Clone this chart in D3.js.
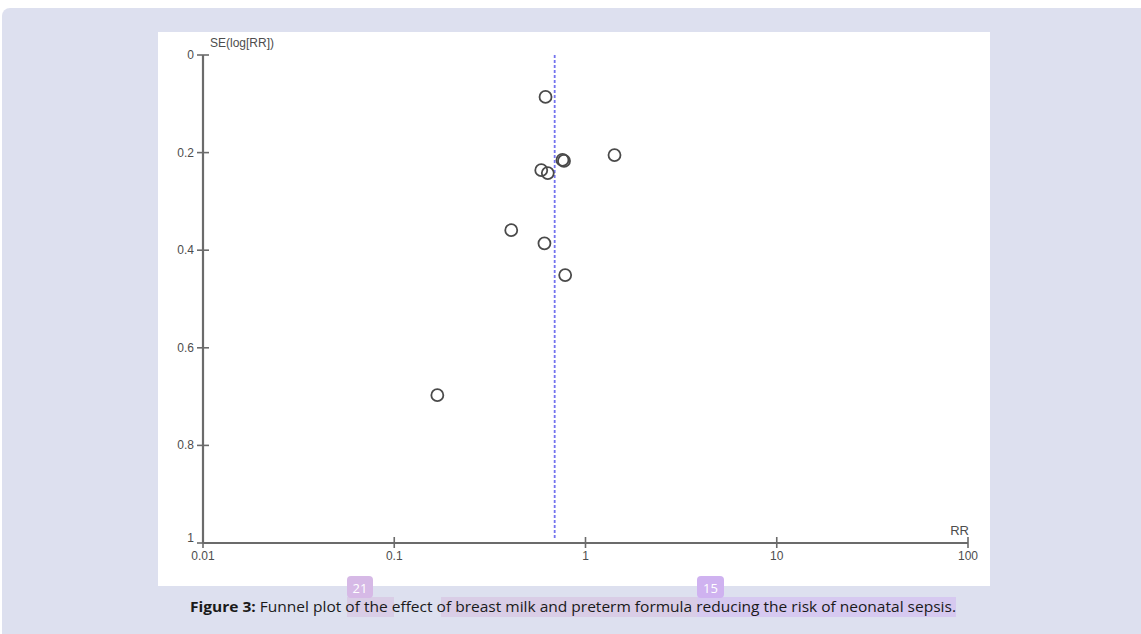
<!DOCTYPE html>
<html>
<head>
<meta charset="utf-8">
<script src="https://cdn.jsdelivr.net/npm/d3@7"></script>
<style>
  body { margin: 0; background: #fff; }
  svg { display: block; }
</style>
</head>
<body>
<svg id="chart" width="1141" height="634"></svg>
<script>

// Study estimates: relative risk and standard error of log(RR)
const rr = [0.618, 1.418, 0.758, 0.772, 0.587, 0.635, 0.409, 0.610, 0.783, 0.168];
const se = [0.086, 0.205, 0.215, 0.217, 0.236, 0.242, 0.359, 0.386, 0.451, 0.697];

// Pooled estimate (dashed line)
const pooledRR = 0.69;

// Tick labels
const xTicks = [0.01, 0.1, 1, 10, 100];
const xTickLabels = ["0.01", "0.1", "1", "10", "100"];
const yTicks = [0, 0.2, 0.4, 0.6, 0.8, 1];
const yTickLabels = ["0", "0.2", "0.4", "0.6", "0.8", "1"];

const svg = d3.select("#chart");

// Page frame
svg.append("rect")
    .attr("x", 2).attr("y", 8)
    .attr("width", 1150).attr("height", 640)
    .attr("rx", 8)
    .attr("fill", "#dde0ef");
svg.append("rect")
    .attr("x", 158).attr("y", 32)
    .attr("width", 832).attr("height", 554)
    .attr("fill", "#fff");

// Scales
const x = d3.scaleLog().domain([0.01, 100]).range([203, 968]);
const y = d3.scaleLinear().domain([0, 1]).range([55, 543]);

const axisColour = "#6b6b6b";
const textColour = "#4d4d4d";
const tickFont = "12px 'Liberation Sans', Arial, sans-serif";

// Y axis
const yAxis = svg.append("g");
yAxis.append("line")
    .attr("x1", x(0.01)).attr("x2", x(0.01))
    .attr("y1", y(0)).attr("y2", y(1))
    .attr("stroke", axisColour).attr("stroke-width", 2.2);
yAxis.selectAll(".ytick")
    .data(yTicks)
    .enter()
    .append("line")
    .attr("x1", x(0.01) - 6).attr("x2", x(0.01) + 6)
    .attr("y1", (d) => y(d)).attr("y2", (d) => y(d))
    .attr("stroke", axisColour).attr("stroke-width", 1.6);
yAxis.selectAll(".ylabel")
    .data(yTicks)
    .enter()
    .append("text")
    .attr("x", x(0.01) - 9)
    .attr("y", (d) => y(d) + (d === 1 ? -1 : 4))
    .attr("text-anchor", "end")
    .style("font", tickFont)
    .attr("fill", textColour)
    .text((d, i) => yTickLabels[i]);
yAxis.append("text")
    .attr("x", 210).attr("y", 47)
    .style("font", tickFont)
    .attr("fill", textColour)
    .text("SE(log[RR])");

// X axis
const xAxis = svg.append("g");
xAxis.append("line")
    .attr("x1", x(0.01)).attr("x2", x(100))
    .attr("y1", y(1)).attr("y2", y(1))
    .attr("stroke", axisColour).attr("stroke-width", 2.2);
xAxis.selectAll(".xtick")
    .data(xTicks)
    .enter()
    .append("line")
    .attr("x1", (d) => x(d)).attr("x2", (d) => x(d))
    .attr("y1", y(1) - 6).attr("y2", y(1) + 5)
    .attr("stroke", axisColour).attr("stroke-width", 1.6);
xAxis.selectAll(".xlabel")
    .data(xTicks)
    .enter()
    .append("text")
    .attr("x", (d) => x(d))
    .attr("y", y(1) + 17)
    .attr("text-anchor", "middle")
    .style("font", tickFont)
    .attr("fill", textColour)
    .text((d, i) => xTickLabels[i]);
xAxis.append("text")
    .attr("x", x(100) + 1).attr("y", y(1) - 8)
    .attr("text-anchor", "end")
    .style("font", "13px 'Liberation Sans', Arial, sans-serif")
    .attr("fill", textColour)
    .text("RR");

// Pooled estimate line
svg.append("line")
    .attr("x1", x(pooledRR)).attr("x2", x(pooledRR))
    .attr("y1", y(0)).attr("y2", y(1) - 3)
    .attr("stroke", "#7373ee")
    .attr("stroke-width", 1.8)
    .attr("stroke-dasharray", "3,2");

// Study points
svg.append("g")
    .selectAll("circle")
    .data(rr)
    .enter()
    .append("circle")
    .attr("cx", (d) => x(d))
    .attr("cy", (d, i) => y(se[i]))
    .attr("r", 6)
    .attr("fill", "none")
    .attr("stroke", "#4a4a4a")
    .attr("stroke-width", 1.8);

// Caption with annotation highlights
const hl = svg.append("g");
hl.append("rect").attr("x", 347).attr("y", 597).attr("width", 47).attr("height", 20).attr("fill", "#d9cde6");
hl.append("rect").attr("x", 441).attr("y", 597).attr("width", 256).attr("height", 20).attr("fill", "#d9cde6");
hl.append("rect").attr("x", 697).attr("y", 597).attr("width", 259).attr("height", 20).attr("fill", "#d6c9f0");
hl.append("rect").attr("x", 347).attr("y", 576).attr("width", 26).attr("height", 22).attr("rx", 4).attr("fill", "#d6b9e6");
hl.append("rect").attr("x", 697).attr("y", 576).attr("width", 27).attr("height", 22).attr("rx", 4).attr("fill", "#cfb2f0");
hl.append("text").attr("x", 360).attr("y", 593).attr("text-anchor", "middle")
    .style("font", "13px 'Open Sans', sans-serif").attr("fill", "#fff").text("21");
hl.append("text").attr("x", 710.5).attr("y", 593).attr("text-anchor", "middle")
    .style("font", "13px 'Open Sans', sans-serif").attr("fill", "#fff").text("15");

const caption = svg.append("text")
    .attr("x", 190).attr("y", 612)
    .attr("textLength", 766)
    .attr("lengthAdjust", "spacingAndGlyphs")
    .style("font", "14.5px 'Open Sans', sans-serif")
    .attr("fill", "#1a1a1a");
caption.append("tspan").style("font-weight", "bold").text("Figure 3:");
caption.append("tspan").text(" Funnel plot of the effect of breast milk and preterm formula reducing the risk of neonatal sepsis.");

</script>
</body>
</html>
